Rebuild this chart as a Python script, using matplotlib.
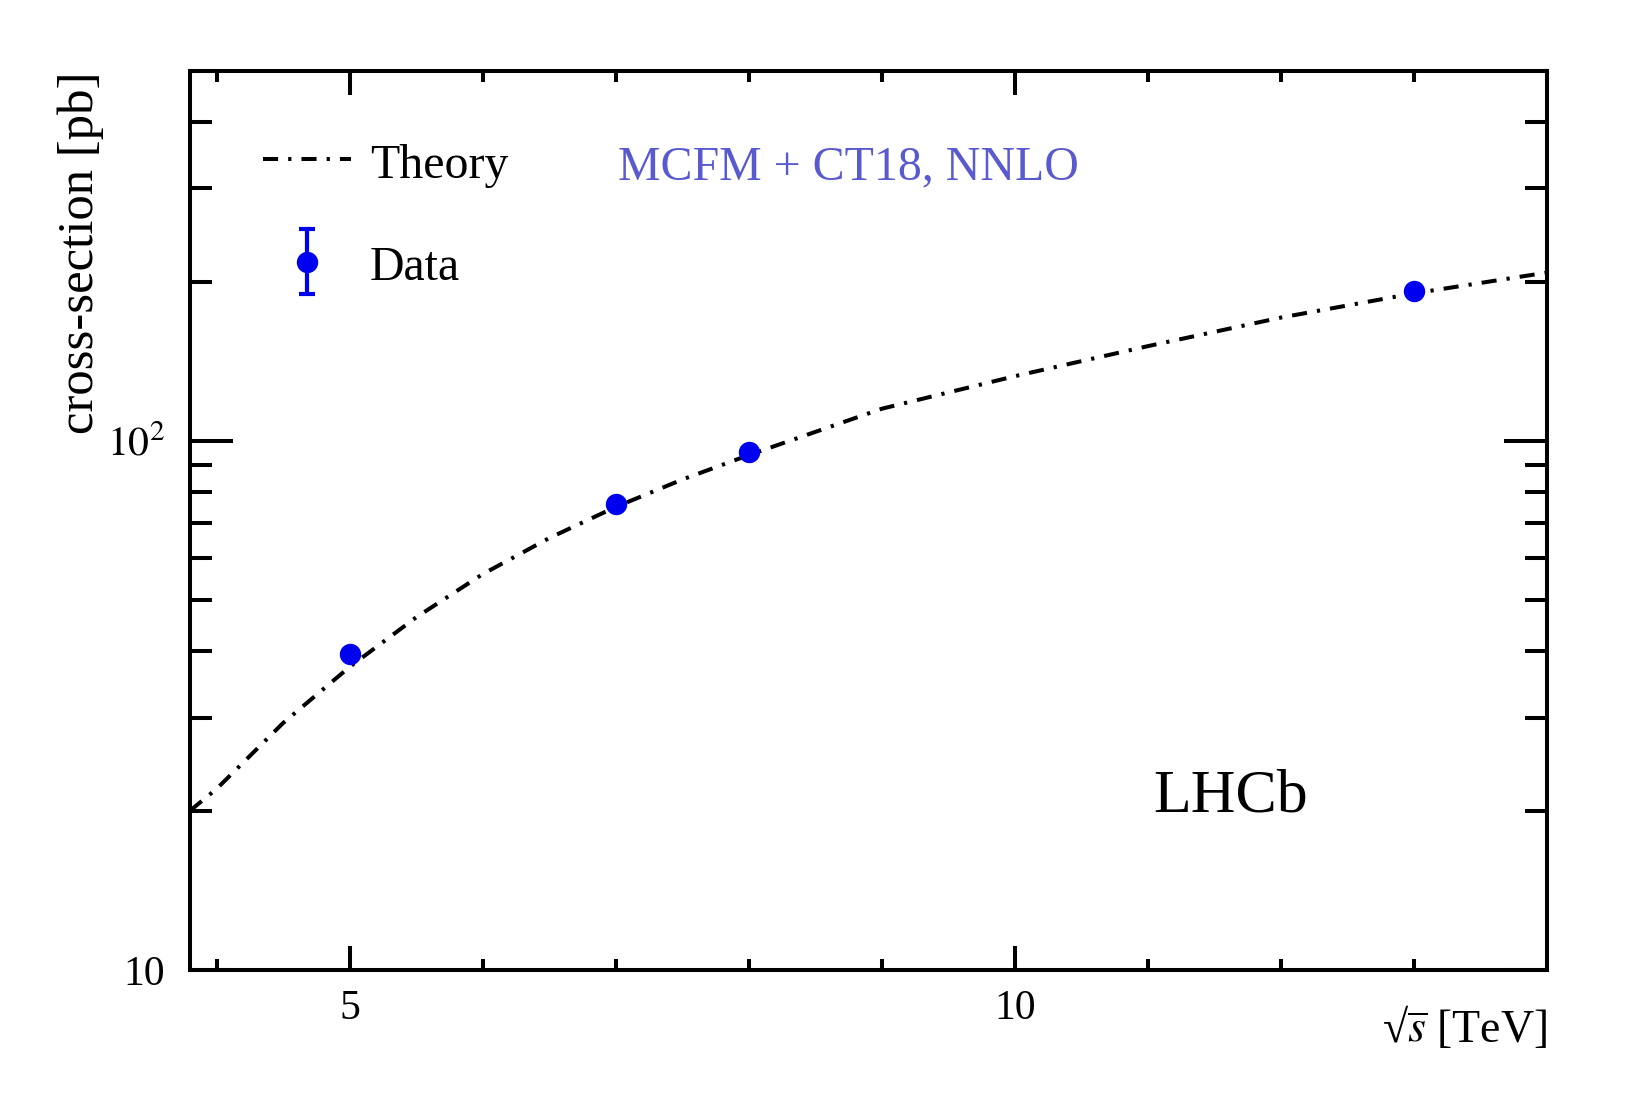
import numpy as np
import matplotlib
matplotlib.use("Agg")
from matplotlib import pyplot as plt
from matplotlib.ticker import MultipleLocator, LogLocator, FuncFormatter, NullFormatter
from matplotlib.legend_handler import HandlerErrorbar
from matplotlib.container import ErrorbarContainer

plt.rcParams['font.family'] = ['Liberation Serif', 'DejaVu Serif']
plt.rcParams['mathtext.fontset'] = 'stix'

# theory curve
theory_sqrts = [3.8, 4.0, 4.5, 5.0, 5.5, 6.0, 6.5, 7.0, 7.5, 8.0, 9.0, 10.0, 11.0, 12.0, 13.0, 14.0]
theory_xsec = [20.0, 22.0, 29.3, 37.4, 46.4, 56.0, 65.5, 75.0, 84.5, 94.0, 115.0, 132.5, 151.0, 171.0, 190.0, 208.0]

# measurements (errors smaller than the markers)
data_sqrts = [5.0, 7.0, 8.0, 13.0]
data_xsec = [39.6, 76.1, 95.1, 191.8]
data_err = [0.0, 0.0, 0.0, 0.0]

blue = '#0000f0'
lw = 2.9


def _ytick_label(v, pos):
	if np.isclose(v, 10):
		return '10'
	if np.isclose(v, 100):
		return r'$10^{2}$'
	return ''


fig = plt.figure(figsize=(16.3, 11.06), dpi=100)
ax = fig.add_axes([0.1166, 0.1230, 0.9491 - 0.1166, 0.9358 - 0.1230])

line_theory, = ax.plot(theory_sqrts, theory_xsec, color='black', lw=lw,
	linestyle=(0, (3.75, 2.5, 0.8, 2.5)), label='Theory', zorder=2)
eb = ax.errorbar(data_sqrts, data_xsec, yerr=data_err, fmt='o', color=blue,
	ms=14.4, elinewidth=3, capsize=6, capthick=3, label='Data', zorder=3)

ax.set_yscale('log')
ax.set_xlim(3.8, 14.0)
ax.set_ylim(10, 500)

ax.xaxis.set_major_locator(MultipleLocator(5))
ax.xaxis.set_minor_locator(MultipleLocator(1))
ax.yaxis.set_major_locator(LogLocator(base=10))
ax.yaxis.set_minor_locator(LogLocator(base=10, subs=np.arange(2, 10)))
ax.yaxis.set_major_formatter(FuncFormatter(_ytick_label))
ax.yaxis.set_minor_formatter(NullFormatter())

for s in ax.spines.values():
	s.set_linewidth(lw)

ax.tick_params(which='both', direction='in', top=True, right=True, width=lw)
ax.tick_params(axis='x', which='major', length=17.3, pad=14, labelsize=30)
ax.tick_params(axis='x', which='minor', length=8)
ax.tick_params(axis='y', which='major', length=31, pad=18, labelsize=30)
ax.tick_params(axis='y', which='minor', length=15.8)

ax.set_xlabel('\u221a' + r'$\overline{s}$ [TeV]', fontsize=33, loc='right')
ax.xaxis.set_label_coords(1.0, -0.0798)
ax.xaxis.label.set_va('baseline')
ax.set_ylabel('cross-section [pb]', fontsize=36.5, loc='top')
ax.yaxis.set_label_coords(-0.0634, 1.0)

ax.legend(handles=[line_theory, eb], loc='upper left', bbox_to_anchor=(0.0538, 0.9236),
	frameon=False, fontsize=34.5, handlelength=1.84, handleheight=1.0, handletextpad=0.39,
	labelspacing=1.15, borderpad=0, borderaxespad=0, numpoints=1,
	handler_map={ErrorbarContainer: HandlerErrorbar(yerr_size=0.67)})

ax.text(0.3154, 0.8788, 'MCFM + CT18, NNLO', transform=ax.transAxes,
	fontsize=34.5, color='#5a5ad0', va='baseline', ha='left')
ax.text(0.7097, 0.1761, 'LHCb', transform=ax.transAxes,
	fontsize=44.6, color='black', va='baseline', ha='left')

fig.savefig('out.png', dpi=100)
